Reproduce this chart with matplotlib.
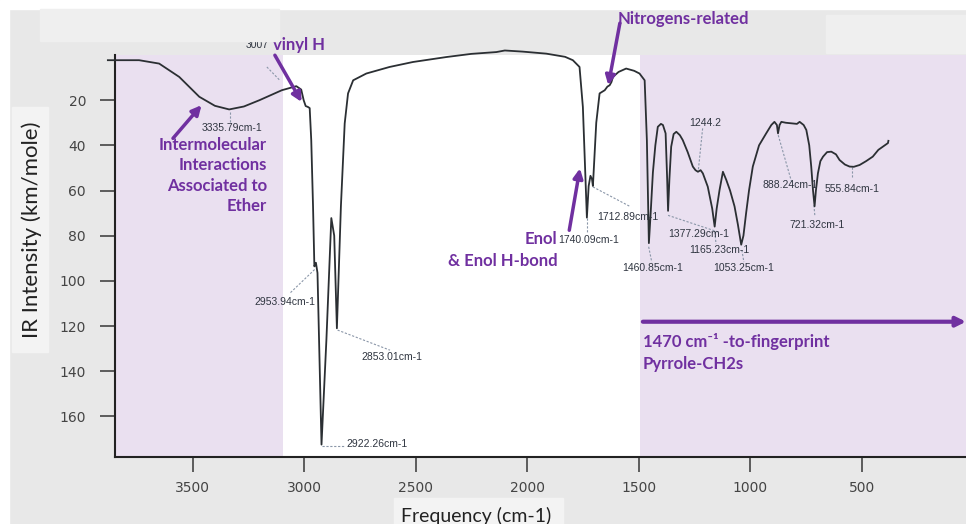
import matplotlib
matplotlib.use("Agg")
import matplotlib.pyplot as plt
from matplotlib.patches import Rectangle

# spettro IR (frequenza cm-1, intensita km/mole)
freq = [3880, 3740, 3650, 3560, 3470, 3400, 3336, 3270, 3200, 3100, 3035, 3013,
        3002, 2993, 2983, 2975, 2968, 2960, 2954, 2947, 2940, 2922, 2900, 2878,
        2865, 2853, 2835, 2818, 2803, 2780, 2721, 2617, 2512, 2362, 2250, 2138,
        2100, 2020, 1914, 1830, 1795, 1765, 1750, 1742, 1732, 1724, 1716, 1709,
        1705, 1698, 1690, 1675, 1652, 1640, 1630, 1622, 1615, 1590, 1556, 1520,
        1496, 1473, 1463, 1454, 1446, 1436, 1425, 1414, 1400, 1391, 1379, 1372,
        1368, 1362, 1354, 1343, 1331, 1315, 1302, 1280, 1257, 1245, 1234, 1222,
        1212, 1190, 1170, 1159, 1150, 1137, 1122, 1107, 1090, 1070, 1055, 1040,
        1030, 1018, 1005, 988, 960, 928, 905, 891, 880, 875, 868, 860, 840, 808,
        790, 778, 760, 748, 735, 726, 718, 711, 705, 696, 685, 673, 655, 636,
        615, 599, 575, 554, 535, 509, 480, 450, 425, 405, 390, 382, 380]
intensity = [2.3, 2.3, 3.8, 9.7, 18.5, 22.5, 24.1, 22.8, 20.0, 15.6, 13.8, 15.3,
             20.0, 22.6, 23.0, 23.5, 37.7, 67, 93.6, 92, 96.5, 172.5, 126, 72.2,
             80, 121, 67, 30.3, 17, 11.2, 8.2, 5.3, 3.1, 0.9, -0.5, -1.3,
             -2, -1.5, -0.6, 0.8, 2.3, 5.3, 23, 45, 72, 58, 53.5, 55,
             58, 45, 30, 17, 15.6, 14, 13.4, 12, 9.7, 7.5, 6, 7,
             8.2, 11.2, 37.7, 83.3, 70, 52, 40, 31.8, 30.5, 31, 34.7, 55,
             69, 55, 40.6, 35, 34, 35.5, 37.7, 43, 49.4, 51, 51.7, 51,
             52.4, 58.3, 68, 76, 68, 59.7, 51.7, 55.3, 60, 67, 75, 84,
             80, 70, 60, 49.4, 40, 34.7, 31, 29.6, 31, 34.7, 31, 29.6, 30, 30.3,
             30.5, 29.6, 31, 33.2, 40, 49.4, 60, 67, 60, 52.4, 47, 45, 43, 42.8,
             44, 46.5, 48.5, 49.4, 49.5, 48.7, 47, 45, 42, 40.6, 39.5, 39, 38]

x_ticks = [3500, 3000, 2500, 2000, 1500, 1000, 500]
y_ticks = [20, 40, 60, 80, 100, 120, 140, 160]

# etichette dei picchi
peak_labels = ["3007", "3335.79cm-1", "2953.94cm-1", "2853.01cm-1", "2922.26cm-1",
               "1740.09cm-1", "1712.89cm-1", "1460.85cm-1", "1377.29cm-1",
               "1165.23cm-1", "1053.25cm-1", "1244.2", "888.24cm-1",
               "721.32cm-1", "555.84cm-1"]

purple = "#7030a0"
pink = "#eae0f0"

fig = plt.figure(figsize=(9.66, 5.24), dpi=100, facecolor="#e8e8e8")

# cornice bianca e riquadri chiari della slide
fig.patches.append(Rectangle((0, 0), 9 / 966, 1, transform=fig.transFigure, color="white", zorder=0))
fig.patches.append(Rectangle((0, 1 - 9 / 524), 1, 9 / 524, transform=fig.transFigure, color="white", zorder=0))
fig.patches.append(Rectangle((40 / 966, 1 - 41 / 524), 239 / 966, 32 / 524, transform=fig.transFigure, color="#efefef", zorder=0))
fig.patches.append(Rectangle((826 / 966, 1 - 53 / 524), 140 / 966, 38 / 524, transform=fig.transFigure, color="#efefef", zorder=0))
fig.patches.append(Rectangle((12 / 966, 1 - 352 / 524), 36 / 966, 245 / 524, transform=fig.transFigure, color="#f3f3f3", zorder=0))
fig.patches.append(Rectangle((394 / 966, 0), 169 / 966, 26 / 524, transform=fig.transFigure, color="#f3f3f3", zorder=0))

ax = fig.add_axes([115 / 966, 1 - 457 / 524, 851 / 966, 402 / 524])
ax.set_facecolor("white")
ax.set_xlim(3848, 32)
ax.set_ylim(178, 0)

ax.axvspan(3848, 3095, color=pink, lw=0, zorder=0)
ax.axvspan(1494, 32, color=pink, lw=0, zorder=0)

ax.plot(freq, intensity, color="#2b2f33", lw=1.3, clip_on=False, zorder=3)

for s in ["top", "right"]:
    ax.spines[s].set_visible(False)
for s in ["left", "bottom"]:
    ax.spines[s].set_color("#222222")
    ax.spines[s].set_linewidth(1.5)

ax.set_xticks(x_ticks)
ax.set_yticks(y_ticks)
ax.tick_params(axis="both", length=10.8, width=1.2, color="#444444", labelcolor="#444444", labelsize=10)
ax.tick_params(axis="y", pad=10)
ax.tick_params(axis="x", pad=6.5)

# etichette piccole dei picchi con linee guida tratteggiate
small = dict(fontsize=7.5, color="#2f3540", family="Liberation Sans", va="center", zorder=4)
lead = dict(color="#8a96a8", lw=0.8, ls=(0, (2, 1.5)), zorder=2)
text_pos = [(3212, -4.3, "center"), (3324, 32.4, "center"), (3086, 109.3, "center"),
            (2604, 133.6, "center"), (2808, 172.3, "left"), (1862, 82, "left"),
            (1687, 71.7, "left"), (1575, 94.5, "left"), (1369, 79.4, "left"),
            (1274, 86.4, "left"), (1167, 94.5, "left"), (1274, 29.9, "left"),
            (943, 57.6, "left"), (822, 75.3, "left"), (665, 59.5, "left")]
leaders = [((3167, 5.3), (3109, 11.2)), ((3333, 25.3), (3333, 29.7)),
           ((2953, 95), (3063, 105.4)), ((2850, 121.8), (2615, 130.7)),
           ((2920, 173.2), (2817, 173.2)), ((1731, 72.2), (1731, 78.4)),
           ((1705, 58.4), (1536, 67.2)), ((1455, 84.9), (1441, 91.7)),
           ((1368, 71), (1145, 78.3)), ((1158, 78.4), (1153, 83.7)),
           ((1037, 86.4), (1028, 91.7)), ((1213, 32.5), (1233, 51.7)),
           ((874, 35.5), (814, 56.2)), ((714, 66.5), (710, 70.9)),
           ((544, 49.7), (544, 54.5))]
for lab, (tx, ty, ha), (p0, p1) in zip(peak_labels, text_pos, leaders):
    ax.text(tx, ty, lab, ha=ha, clip_on=False, **small)
    ax.plot([p0[0], p1[0]], [p0[1], p1[1]], clip_on=False, **lead)

# testi e frecce viola
bold = dict(color=purple, fontsize=12, fontweight="bold", family=["Lato", "DejaVu Sans"], zorder=5)
arrow = dict(arrowstyle="-|>", color=purple, lw=2.5, mutation_scale=14, shrinkA=0, shrinkB=0)

ax.text(3140, -4.3, "vinyl H", ha="left", va="center", clip_on=False, **bold)
ax.annotate("", xy=(3011, 20.8), xytext=(3131, 0.1), arrowprops=arrow, annotation_clip=False)

ax.text(3167, 36.4, "Intermolecular\nInteractions\nAssociated to\nEther", ha="right", va="top",
        linespacing=1.32, clip_on=False, **bold)
ax.annotate("", xy=(3460, 22.2), xytext=(3588, 36.9), arrowprops=arrow, annotation_clip=False)

ax.text(1864, 81.5, "Enol", ha="right", va="center", **bold)
ax.text(1864, 91.3, "& Enol H-bond", ha="right", va="center", **bold)
ax.annotate("", xy=(1763, 50.2), xytext=(1811, 77.6), arrowprops=arrow, annotation_clip=False)

ax.text(1593, -15.8, "Nitrogens-related", ha="left", va="center", clip_on=False, **bold)
ax.annotate("", xy=(1636, 13.4), xytext=(1584, -14.1), arrowprops=arrow, annotation_clip=False)

ax.annotate("", xy=(32, 118.1), xytext=(1481, 118.1), arrowprops=dict(arrow, lw=3), annotation_clip=False)
ax.text(1481, 127, "1470 cm\u207b\u00b9 -to-fingerprint", ha="left", va="center", **bold)
ax.text(1481, 137, "Pyrrole-CH2s", ha="left", va="center", **bold)

fig.text(32 / 966, 1 - 230 / 524, "IR Intensity (km/mole)", rotation=90, ha="center", va="center",
         fontsize=16, color="#222222", family="Lato")
fig.text(401 / 966, 2 / 524, "Frequency (cm-1)", ha="left", va="baseline",
         fontsize=14, color="#222222", family="Lato")

fig.savefig("out.png", dpi=100, facecolor=fig.get_facecolor())
